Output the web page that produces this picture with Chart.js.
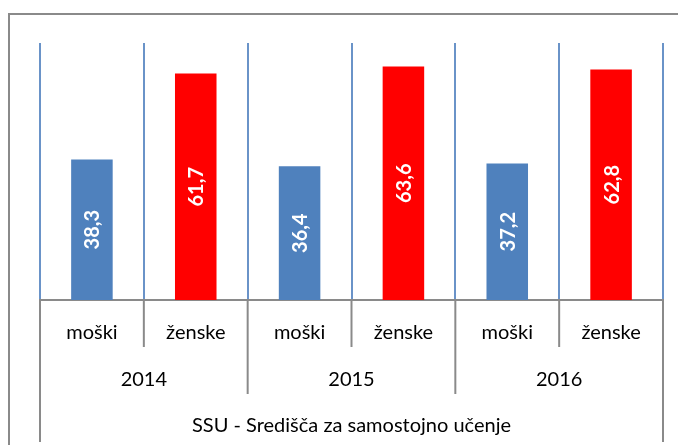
<!DOCTYPE html>
<html>
<head>
<meta charset="utf-8">
<script src="https://cdn.jsdelivr.net/npm/chart.js@4"></script>
<style>
  html, body { margin: 0; padding: 0; background: #fff; }
  #wrap { width: 678px; height: 445px; }
</style>
</head>
<body>
<div id="wrap"><canvas id="chart" width="678" height="445"></canvas></div>
<script>
// podatki
const spol = ["moški", "ženske", "moški", "ženske", "moški", "ženske"];
const leta = ["2014", "2015", "2016"];
const naslov = "SSU - Središča za samostojno učenje";
const vrednosti = [38.3, 61.7, 36.4, 63.6, 37.2, 62.8];
const barve = ["#4F81BD", "#FF0000", "#4F81BD", "#FF0000", "#4F81BD", "#FF0000"];

const FONT = "Lato, 'Open Sans', sans-serif";

// okvir okrog grafa
const okvir = {
  id: "okvir",
  beforeDraw(chart) {
    const c = chart.ctx;
    c.save();
    c.strokeStyle = "#8a8a8a";
    c.lineWidth = 2;
    c.strokeRect(9, 14, 760, 500);
    c.restore();
  }
};

// vrednosti v stolpcih, zasukane
const napisi = {
  id: "napisi",
  afterDatasetsDraw(chart) {
    const c = chart.ctx;
    const meta = chart.getDatasetMeta(0);
    c.save();
    c.fillStyle = "#fff";
    c.font = "bold 20px " + FONT;
    c.textAlign = "center";
    c.textBaseline = "middle";
    meta.data.forEach((bar, i) => {
      const y = (bar.y + bar.base) / 2;
      c.save();
      c.translate(bar.x, y);
      c.rotate(-Math.PI / 2);
      c.fillText(vrednosti[i].toFixed(1).replace(".", ","), 0, 1);
      c.restore();
    });
    c.restore();
  }
};

// kategorije v vec nivojih pod osjo
const nivoji = {
  id: "nivoji",
  afterDraw(chart) {
    const c = chart.ctx;
    const x = chart.scales.x;
    const a = chart.chartArea;
    const n = spol.length;
    const w = (a.right - a.left) / n;
    const meja = i => a.left + i * w;
    c.save();
    c.strokeStyle = "#8a8a8a";
    c.lineWidth = 2;
    for (let i = 0; i <= n; i++) {
      let dno = a.bottom + 47;
      if (i === 0 || i === n) dno = a.bottom + 142;
      else if (i % 2 === 0) dno = a.bottom + 94;
      c.beginPath();
      c.moveTo(meja(i), a.bottom);
      c.lineTo(meja(i), dno);
      c.stroke();
    }
    c.fillStyle = "#000";
    c.font = "20px " + FONT;
    c.textAlign = "center";
    c.textBaseline = "middle";
    spol.forEach((s, i) => c.fillText(s, x.getPixelForValue(i), a.bottom + 33));
    leta.forEach((l, i) => c.fillText(l, (meja(2 * i) + meja(2 * i + 2)) / 2, a.bottom + 80));
    c.fillText(naslov, (a.left + a.right) / 2, a.bottom + 126);
    c.restore();
  }
};

new Chart(document.getElementById("chart"), {
  type: "bar",
  data: {
    labels: spol,
    datasets: [{
      data: vrednosti,
      backgroundColor: barve,
      barPercentage: 0.4,
      categoryPercentage: 1
    }]
  },
  options: {
    responsive: false,
    animation: false,
    layout: { padding: { left: 40, right: 15, top: 43, bottom: 145 } },
    plugins: {
      legend: { display: false },
      tooltip: { enabled: false }
    },
    scales: {
      x: {
        offset: true,
        grid: { display: true, offset: true, color: "#6a93c8", lineWidth: 2, drawTicks: false },
        border: { display: true, color: "#8a8a8a", width: 2 },
        ticks: { display: false }
      },
      y: {
        display: false,
        min: 0,
        max: 70
      }
    }
  },
  plugins: [okvir, napisi, nivoji]
});
</script>
</body>
</html>
